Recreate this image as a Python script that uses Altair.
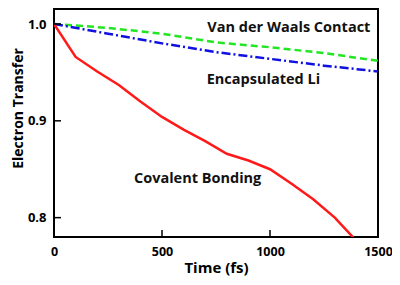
import altair as alt
import pandas as pd

# Data
cov_t = [0, 100, 200, 300, 400, 500, 600, 700, 800, 900, 1000, 1100, 1200, 1300, 1400]
cov_v = [1.0, 0.966, 0.951, 0.937, 0.920, 0.904, 0.891, 0.879, 0.866, 0.859, 0.850, 0.835, 0.819, 0.800, 0.776]
vdw_t = [0, 250, 500, 750, 1000, 1250, 1500]
vdw_v = [1.0, 0.996, 0.990, 0.981, 0.976, 0.970, 0.962]
enc_t = [0, 250, 500, 750, 1000, 1250, 1500]
enc_v = [1.0, 0.990, 0.980, 0.971, 0.964, 0.957, 0.951]

x_ticks = [0, 500, 1000, 1500]
y_ticks = [0.8, 0.9, 1.0]

label_text = ["Van der Waals Contact", "Encapsulated Li", "Covalent Bonding"]
label_t = [710, 707, 370]
label_v = [0.9956, 0.9423, 0.8394]

FONT = "Open Sans"
W, H = 324, 228

xs = alt.Scale(domain=[0, 1500], nice=False)
ys = alt.Scale(domain=[0.78, 1.0155], nice=False)

xaxis = alt.Axis(values=x_ticks, format="d", title="Time (fs)", tickSize=0, domain=False,
                 grid=False, labelFont=FONT, labelFontWeight="bold", labelFontSize=12.5,
                 labelColor="black", labelPadding=8, titleFont=FONT, titleFontWeight="bold",
                 titleFontSize=15, titleColor="black", titlePadding=3, labelFlush=False)
yaxis = alt.Axis(values=y_ticks, format=".1f", title="Electron Transfer", tickSize=0, domain=False,
                 grid=False, labelFont=FONT, labelFontWeight="bold", labelFontSize=13,
                 labelColor="black", labelPadding=8, titleFont=FONT, titleFontWeight="bold",
                 titleFontSize=14, titleColor="black", titlePadding=2, titleY=99,
                 labelFlush=False)

cov = pd.DataFrame({"t": cov_t, "v": cov_v})
vdw = pd.DataFrame({"t": vdw_t, "v": vdw_v})
enc = pd.DataFrame({"t": enc_t, "v": enc_v})
labels = pd.DataFrame({"text": label_text, "t": label_t, "v": label_v})
xt = pd.DataFrame({"t": x_ticks[1:-1]})
yt = pd.DataFrame({"v": y_ticks})

base_x = alt.X("t:Q", scale=xs, axis=xaxis)
base_y = alt.Y("v:Q", scale=ys, axis=yaxis)

red = alt.Chart(cov).mark_line(color="#ff1a1a", strokeWidth=2.5, clip=True).encode(x=base_x, y=base_y)
green = alt.Chart(vdw).mark_line(color="#22e622", strokeWidth=2.5, strokeDash=[7, 4], clip=True).encode(x=base_x, y=base_y)
blue = alt.Chart(enc).mark_line(color="#1010e0", strokeWidth=2.5, strokeDash=[9, 3, 2, 3], clip=True).encode(x=base_x, y=base_y)

txt = alt.Chart(labels).mark_text(align="left", baseline="middle", font=FONT, fontWeight="bold",
                                  fontSize=14.5, color="#111").encode(
    x=alt.X("t:Q", scale=xs), y=alt.Y("v:Q", scale=ys), text="text:N")

xtick = alt.Chart(xt).mark_rule(color="black", strokeWidth=1.5).encode(
    x=alt.X("t:Q", scale=xs), y=alt.value(H), y2=alt.value(H - 7))
ytick = alt.Chart(yt).mark_rule(color="black", strokeWidth=1.5).encode(
    y=alt.Y("v:Q", scale=ys), x=alt.value(0), x2=alt.value(7))

chart = alt.layer(green, blue, red, txt, xtick, ytick).properties(
    width=W, height=H,
    background="white",
    autosize=alt.AutoSizeParams(type="none"),
    padding={"left": 46, "top": 1, "right": 14, "bottom": 45},
).configure_view(stroke="black", strokeWidth=2)

chart.save("out.html", embed_options={"renderer": "svg", "actions": False})
